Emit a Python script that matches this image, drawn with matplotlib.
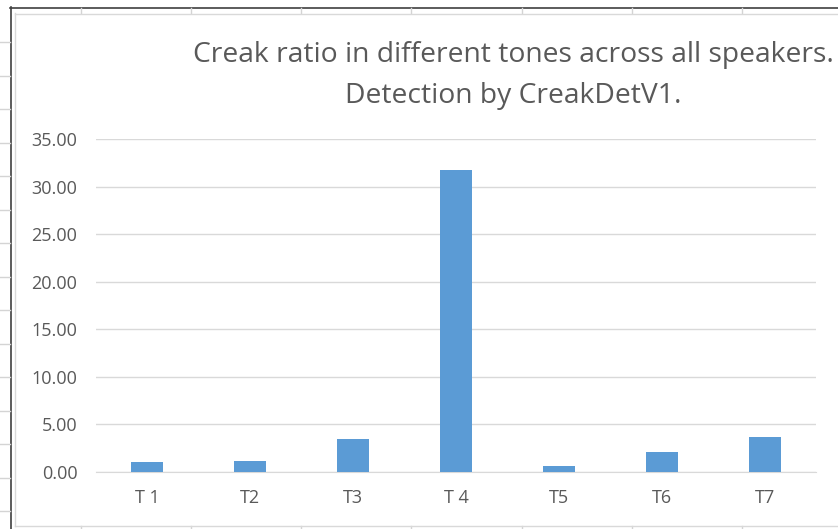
import matplotlib.pyplot as plt
from matplotlib.lines import Line2D

# tone categories and creak ratio (%)
tones = ['T 1', 'T2', 'T3', 'T 4', 'T5', 'T6', 'T7']
creak_ratio = [1.02, 1.16, 3.47, 31.7, 0.6, 2.1, 3.65]
yticks = [0, 5, 10, 15, 20, 25, 30, 35]

W, H = 838, 529
fig = plt.figure(figsize=(W / 100, H / 100), dpi=100)
fig.patch.set_facecolor('white')

# spreadsheet background bits around the chart (in pixel coords)
def px_line(x0, y0, x1, y1, color, lw=1.0):
    fig.add_artist(Line2D([x0 / W, x1 / W], [1 - y0 / H, 1 - y1 / H],
                          transform=fig.transFigure, color=color, lw=lw))

px_line(10, 7.5, W, 7.5, '#404040', 1.2)
px_line(10.5, 7, 10.5, H, '#404040', 1.2)
for cx in [81, 191, 301, 411, 522, 632, 742]:
    px_line(cx, 8, cx, 13, '#d4d4d4')
    px_line(cx, 526, cx, H, '#d4d4d4')
for ry in [42, 76, 109, 143, 176, 210, 243, 277, 310, 344, 377, 411, 444, 478, 511]:
    px_line(0, ry, 10, ry, '#d4d4d4')
# chart area border
px_line(15, 13.5, W, 13.5, '#d9d9d9')
px_line(15, 13, 15, 526, '#d9d9d9')
px_line(15, 526, W, 526, '#d9d9d9')

ax = fig.add_axes([96 / W, 1 - 472 / H, (816 - 96) / W, (472 - 139) / H])
ax.bar(range(len(tones)), creak_ratio, width=0.31, color='#5B9BD5', zorder=3)

ax.set_xlim(-0.5, len(tones) - 0.5)
ax.set_ylim(0, 35)
ax.set_yticks(yticks)
ax.set_yticklabels([f'{v:.2f}' for v in yticks])
ax.set_xticks(range(len(tones)))
ax.set_xticklabels(tones)
ax.grid(axis='y', color='#d9d9d9', lw=1.0, zorder=0)
for s in ['top', 'right', 'left']:
    ax.spines[s].set_visible(False)
ax.spines['bottom'].set_color('#d9d9d9')
ax.tick_params(length=0, labelsize=13, labelcolor='#595959')
ax.tick_params(axis='x', pad=12)
ax.tick_params(axis='y', pad=13.5)
for lab in ax.get_xticklabels() + ax.get_yticklabels():
    lab.set_family('Open Sans')

fig.text(513.5 / W, 1 - 62 / H, 'Creak ratio in different tones across all speakers.',
         ha='center', va='baseline', fontsize=20.3, color='#595959', family='Open Sans')
fig.text(513.5 / W, 1 - 103 / H, 'Detection by CreakDetV1.',
         ha='center', va='baseline', fontsize=20.3, color='#595959', family='Open Sans')

fig.savefig('out.png', dpi=100)
